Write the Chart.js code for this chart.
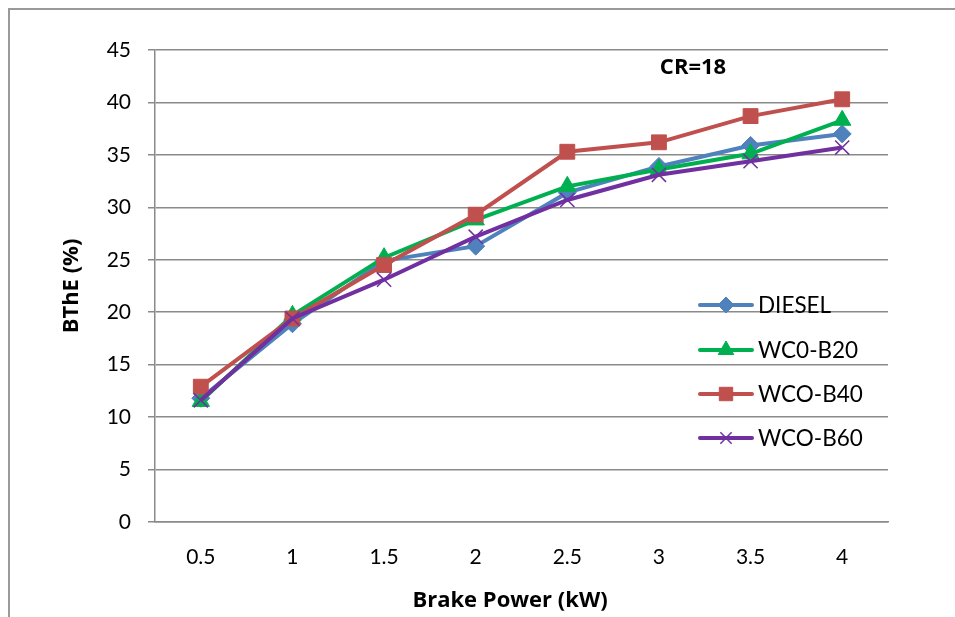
<!DOCTYPE html>
<html>
<head>
<meta charset="utf-8">
<script src="https://cdn.jsdelivr.net/npm/chart.js@4.4.1/dist/chart.umd.min.js"></script>
<style>
  html, body { margin: 0; padding: 0; background: #fff; }
  #wrap { position: relative; width: 955px; height: 617px; overflow: hidden; }
  #frame { position: absolute; left: 8px; top: 8px; right: -4px; bottom: -4px;
           border-top: 2px solid #9a9a9a; border-left: 2px solid #9a9a9a; }
  #chart { position: absolute; left: 0; top: 0; }
</style>
</head>
<body>
<div id="wrap">
  <div id="frame"></div>
  <canvas id="chart" width="955" height="617"></canvas>
</div>
<script>
const FONT = 'Lato, "Open Sans", sans-serif';
const BOLD_FONT = '"Open Sans", Lato, sans-serif';

// brake power (kW)
const categories = ['0.5', '1', '1.5', '2', '2.5', '3', '3.5', '4'];

// BThE (%)
const diesel = [11.8, 18.9, 24.9, 26.3, 31.4, 33.9, 35.9, 37.0];
const wco_b20 = [11.5, 19.7, 25.2, 28.8, 32.0, 33.6, 35.1, 38.3];
const wco_b40 = [12.9, 19.4, 24.5, 29.3, 35.3, 36.2, 38.7, 40.3];
const wco_b60 = [11.6, 19.4, 23.1, 27.2, 30.7, 33.1, 34.4, 35.7];

const seriesNames = ['DIESEL', 'WC0-B20', 'WCO-B40', 'WCO-B60'];
const seriesColors = ['#4f81bd', '#00b050', '#c0504d', '#7030a0'];
const seriesMarkers = ['rectRot', 'triangle', 'rect', 'crossRot'];
const markerSizes = [9, 10, 10.5, 10];
const legendMarkerSizes = [8, 9, 9.5, 8];

const annotationText = 'CR=18';
const xTitle = 'Brake Power (kW)';

function makeSet(i, values) {
  const cross = seriesMarkers[i] === 'crossRot';
  return {
    label: seriesNames[i],
    data: values,
    borderColor: seriesColors[i],
    backgroundColor: seriesColors[i],
    borderWidth: 4,
    pointStyle: seriesMarkers[i],
    pointRadius: markerSizes[i],
    pointHoverRadius: markerSizes[i],
    pointBorderWidth: cross ? 1.5 : 1,
    pointBorderColor: seriesColors[i],
    pointBackgroundColor: seriesColors[i],
    tension: 0,
    order: 4 - i
  };
}

// legend sits inside the plot, like the spreadsheet one
const insideLegend = {
  id: 'insideLegend',
  afterDraw(chart) {
    const ctx = chart.ctx;
    const rows = [305, 350, 394, 438];
    ctx.save();
    chart.data.datasets.forEach((ds, i) => {
      const y = rows[i];
      ctx.strokeStyle = ds.borderColor;
      ctx.lineWidth = 4;
      ctx.lineCap = 'round';
      ctx.beginPath();
      ctx.moveTo(700, y);
      ctx.lineTo(752, y);
      ctx.stroke();
      ctx.fillStyle = ds.borderColor;
      ctx.lineWidth = ds.pointBorderWidth;
      ctx.lineCap = 'butt';
      Chart.helpers.drawPoint(ctx, {
        pointStyle: ds.pointStyle,
        radius: legendMarkerSizes[i],
        borderWidth: ds.pointBorderWidth
      }, 726, y);
      ctx.fillStyle = '#000';
      ctx.font = '22.5px ' + FONT;
      ctx.textAlign = 'left';
      ctx.textBaseline = 'middle';
      ctx.fillText(ds.label, 758, y + 1);
    });
    ctx.fillStyle = '#000';
    ctx.font = 'bold 22px ' + BOLD_FONT;
    ctx.textAlign = 'center';
    ctx.textBaseline = 'middle';
    ctx.fillText(annotationText, 693, 68);
    // x axis title, a bit left of the plot centre as in the original
    ctx.fillText(xTitle, 510, 601);
    ctx.restore();
  }
};

new Chart(document.getElementById('chart'), {
  type: 'line',
  data: {
    labels: categories,
    datasets: [
      makeSet(0, diesel),
      makeSet(1, wco_b20),
      makeSet(2, wco_b40),
      makeSet(3, wco_b60)
    ]
  },
  options: {
    responsive: false,
    animation: false,
    events: [],
    layout: { padding: { left: 0, top: 50, right: 67, bottom: 0 } },
    plugins: {
      legend: { display: false },
      tooltip: { enabled: false }
    },
    scales: {
      x: {
        offset: true,
        grid: { display: false, drawTicks: false },
        border: { display: true, color: '#8a8a8a', width: 1.5 },
        ticks: { color: '#000', font: { family: FONT, size: 21 }, padding: 23, maxRotation: 0 },
        title: { display: false },
        afterFit(scale) { scale.height = 95; }
      },
      y: {
        min: 0, max: 45,
        grid: { color: '#8a8a8a', lineWidth: 1.5, tickLength: 7 },
        border: { display: true, color: '#8a8a8a', width: 1.5 },
        ticks: { stepSize: 5, color: '#000', font: { family: FONT, size: 21 }, padding: 17 },
        title: {
          display: true, text: 'BThE (%)', color: '#000',
          font: { family: BOLD_FONT, size: 22, weight: 'bold' },
          padding: { top: 59, bottom: 0 }
        },
        afterFit(scale) { scale.width = 155; }
      }
    }
  },
  plugins: [insideLegend]
});
</script>
</body>
</html>
